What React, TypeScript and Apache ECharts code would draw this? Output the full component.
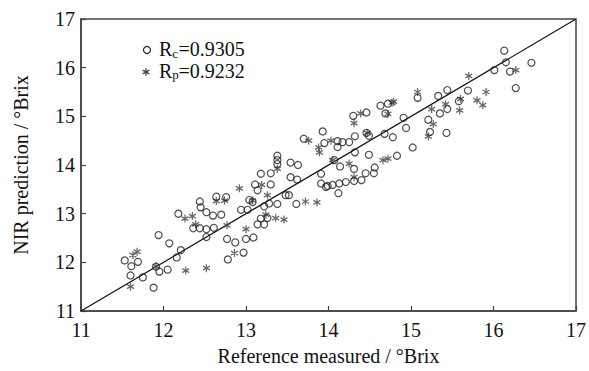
import React, { useEffect, useRef } from "react";
import * as echarts from "echarts";

// Calibration set (Rc) – circles: [reference, NIR prediction]
const calX = [
  11.53, 11.61, 11.69, 11.60, 11.75, 11.88, 11.91, 11.95, 12.05, 11.94, 12.07, 12.21, 12.16, 12.18,
  12.36, 12.44, 12.52, 12.61, 12.52, 12.44, 12.45, 12.52, 12.60, 12.70, 12.77, 12.87, 12.78, 12.97,
  13.00, 13.09, 12.64, 12.76, 12.94, 13.02, 13.04, 13.08, 13.14, 13.22, 13.28, 13.38, 13.48, 13.61,
  13.18, 13.26, 13.14, 13.22, 13.11, 13.30, 13.18, 13.30, 13.38, 13.38, 13.38, 13.54, 13.63, 13.54,
  13.62, 13.52, 13.70, 13.93, 13.95, 13.91, 13.91, 13.97, 14.11, 14.17, 14.25, 14.11, 14.32, 14.46,
  14.49, 14.68, 14.78, 14.94, 15.02, 14.32, 14.49, 14.83, 14.07, 14.14, 14.31, 14.45, 14.56, 14.55,
  14.40, 14.31, 14.21, 14.13, 14.05, 13.99, 14.12, 14.63, 14.72, 14.46, 14.30, 14.69, 14.91, 15.08,
  15.44, 15.69, 15.33, 15.58, 15.44, 15.35, 15.21, 15.23, 15.43, 16.01, 16.20, 16.13, 16.15, 16.46,
  16.27,
];
const calY = [
  12.04, 11.92, 12.01, 11.73, 11.69, 11.48, 11.91, 11.81, 11.85, 12.56, 12.39, 12.25, 12.10, 13.00,
  12.70, 12.70, 12.68, 12.71, 12.52, 13.25, 13.13, 13.03, 12.96, 12.98, 12.48, 12.41, 12.06, 12.20,
  12.48, 12.51, 13.35, 13.34, 13.08, 13.08, 13.28, 13.24, 13.48, 13.15, 13.21, 13.20, 13.38, 13.20,
  12.90, 12.91, 12.78, 12.78, 13.60, 13.60, 13.82, 13.83, 14.19, 14.10, 14.02, 14.05, 14.00, 13.75,
  13.70, 13.38, 14.54, 14.69, 14.45, 13.82, 13.62, 13.55, 14.49, 14.47, 14.47, 14.37, 14.59, 14.66,
  14.60, 14.64, 14.57, 14.76, 14.36, 14.26, 14.21, 14.19, 14.10, 13.97, 13.92, 13.83, 13.95, 13.83,
  13.69, 13.67, 13.65, 13.62, 13.59, 13.57, 13.42, 15.22, 15.26, 15.08, 15.01, 15.06, 14.97, 15.38,
  15.54, 15.53, 15.42, 15.31, 15.15, 15.06, 14.93, 14.68, 14.66, 15.95, 15.92, 16.35, 16.11, 16.10,
  15.58,
];

// Prediction set (Rp) – asterisks
const preX = [
  11.63, 11.68, 11.60, 11.91, 12.27, 12.52, 12.26, 12.35, 12.39, 12.64, 12.74, 12.77, 12.86, 13.00,
  12.92, 13.19, 13.26, 13.08, 13.24, 13.36, 13.46, 13.72, 13.86, 13.38, 13.76, 14.03, 13.88, 13.89,
  14.05, 14.25, 14.66, 14.72, 14.31, 14.31, 14.39, 14.72, 14.77, 14.47, 15.08, 14.79, 15.42, 15.60,
  15.25, 15.59, 15.80, 15.87, 15.91, 15.70, 15.27, 15.21, 16.27,
];
const preY = [
  12.15, 12.22, 11.50, 11.92, 11.83, 11.88, 12.90, 12.95, 12.78, 13.26, 13.27, 12.76, 12.19, 12.68,
  13.52, 13.59, 13.38, 13.27, 12.98, 12.91, 12.88, 13.25, 13.23, 13.92, 14.50, 14.50, 14.36, 14.26,
  14.10, 14.03, 14.10, 14.13, 13.75, 14.86, 15.06, 15.05, 15.28, 14.66, 15.50, 15.30, 15.25, 15.36,
  15.15, 15.12, 15.33, 15.23, 15.50, 15.83, 14.84, 14.59, 15.95,
];

const axisMin = 11;
const axisMax = 17;
const axisStep = 1;
const legendTexts = [
  { main: "R", sub: "c", value: "=0.9305" },
  { main: "R", sub: "p", value: "=0.9232" },
];
const xTitle = "Reference measured / °Brix";
const yTitle = "NIR prediction / °Brix";

const FONT = "Liberation Serif";
const ASTERISK = "path://M0,-10L0,10M-8.66,-5L8.66,5M-8.66,5L8.66,-5";

export default function App() {
  const ref = useRef<HTMLDivElement>(null);
  useEffect(() => {
    if (!ref.current) return;
    const chart = echarts.init(ref.current, undefined, { renderer: "svg" });
    const cal = calX.map((x, i) => [x, calY[i]]);
    const pre = preX.map((x, i) => [x, preY[i]]);
    const axisCommon = {
      type: "value",
      min: axisMin,
      max: axisMax,
      interval: axisStep,
      splitLine: { show: false },
      axisLine: { show: true, lineStyle: { color: "#444", width: 1.5 } },
      axisTick: { show: true, inside: true, length: 5, lineStyle: { color: "#444", width: 1.2 } },
      nameTextStyle: { fontFamily: FONT, fontSize: 20, color: "#111" },
    };
    const rowY = [49.2, 70.5];
    const subY = [53.6, 74.6];
    const graphics: any[] = [];
    // legend markers
    graphics.push({
      type: "circle",
      shape: { cx: 147, cy: 50, r: 3.5 },
      style: { fill: "none", stroke: "#222", lineWidth: 1.2 },
    });
    const ax = 146, ay = 72, r = 3.8;
    [0, 60, 120].forEach((deg) => {
      const a = (deg * Math.PI) / 180;
      graphics.push({
        type: "line",
        shape: {
          x1: ax + r * Math.sin(a),
          y1: ay - r * Math.cos(a),
          x2: ax - r * Math.sin(a),
          y2: ay + r * Math.cos(a),
        },
        style: { stroke: "#444", lineWidth: 1.3 },
      });
    });
    legendTexts.forEach((t, i) => {
      graphics.push({
        type: "text",
        x: 159,
        y: rowY[i],
        style: { text: t.main, fontFamily: FONT, fontSize: 20, fill: "#111", verticalAlign: "middle", align: "left" },
      });
      graphics.push({
        type: "text",
        x: 172.3,
        y: subY[i],
        style: { text: t.sub, fontFamily: FONT, fontSize: 13, fill: "#111", verticalAlign: "middle", align: "left" },
      });
      graphics.push({
        type: "text",
        x: 178.5,
        y: rowY[i],
        style: { text: t.value, fontFamily: FONT, fontSize: 20, fill: "#111", verticalAlign: "middle", align: "left" },
      });
    });

    chart.setOption({
      animation: false,
      backgroundColor: "#fff",
      grid: {
        left: 81,
        right: 11,
        top: 19,
        bottom: 54,
        show: true,
        borderColor: "#444",
        borderWidth: 1.5,
        containLabel: false,
      },
      xAxis: {
        ...axisCommon,
        name: xTitle,
        nameLocation: "middle",
        nameGap: 35,
        axisLabel: { fontFamily: FONT, fontSize: 20, color: "#111", margin: 9 },
      },
      yAxis: {
        ...axisCommon,
        name: yTitle,
        nameLocation: "middle",
        nameGap: 50,
        axisLabel: { fontFamily: FONT, fontSize: 20, color: "#111", margin: 6 },
      },
      graphic: graphics,
      series: [
        {
          type: "line",
          data: [
            [axisMin, axisMin],
            [axisMax, axisMax],
          ],
          symbol: "none",
          lineStyle: { color: "#111", width: 1.2 },
          silent: true,
          z: 1,
        },
        {
          name: "Rc",
          type: "scatter",
          data: cal,
          symbol: "circle",
          symbolSize: 7,
          itemStyle: { color: "transparent", borderColor: "#222", borderWidth: 1.2 },
          z: 3,
        },
        {
          name: "Rp",
          type: "scatter",
          data: pre,
          symbol: ASTERISK,
          symbolSize: [7, 8],
          itemStyle: { color: "#444", borderColor: "#444", borderWidth: 1.3 },
          z: 2,
        },
      ],
    });
    return () => chart.dispose();
  }, []);
  return (
    <div
      ref={ref}
      style={{ position: "fixed", left: 0, top: 0, width: 589, height: 371, background: "#fff" }}
    />
  );
}
